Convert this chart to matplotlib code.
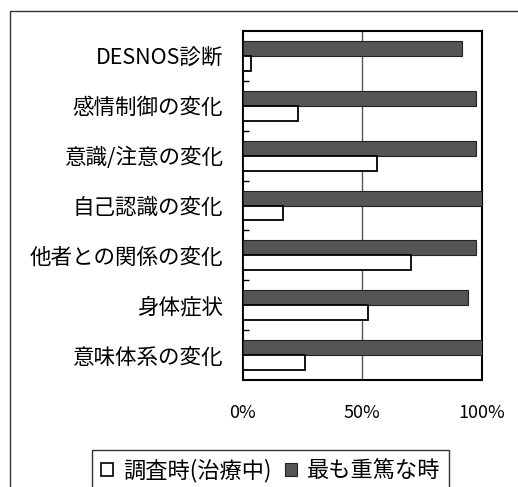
import matplotlib
matplotlib.use("Agg")
import matplotlib.pyplot as plt
from matplotlib.patches import Rectangle, Patch
import numpy as np

plt.rcParams['font.family'] = ['Noto Sans CJK JP', 'DejaVu Sans']

categories = ["DESNOS診断", "感情制御の変化", "意識/注意の変化", "自己認識の変化",
              "他者との関係の変化", "身体症状", "意味体系の変化"]
current_pct = [3.4, 23, 56, 17, 70.5, 52.5, 26]
worst_pct = [91.5, 97.5, 97.5, 100, 97.5, 94, 100]
series_labels = ["調査時(治療中)", "最も重篤な時"]
x_ticks = [0, 50, 100]
x_tick_labels = ["0%", "50%", "100%"]

W, H = 518, 487
fig = plt.figure(figsize=(W / 100, H / 100), dpi=100)
ax = fig.add_axes([242.5 / W, 1 - 380 / H, (482 - 242.5) / W, (380 - 31) / H])

y = np.arange(len(categories))
bh = 0.3
ax.barh(y - bh / 2, worst_pct, height=bh, color="#555555", edgecolor="#222222",
        linewidth=0.8, zorder=3)
ax.barh(y + bh / 2, current_pct, height=bh, color="white", edgecolor="black",
        linewidth=1.3, zorder=3)

ax.set_xlim(0, 100)
ax.set_ylim(len(categories) - 0.5, -0.5)
ax.axvline(50, color="#555555", linewidth=1.0, zorder=1)

ax.set_xticks(x_ticks)
ax.set_xticklabels(x_tick_labels, fontsize=13)
ax.tick_params(axis="x", length=0, pad=17)

# category boundaries get short inward ticks, labels sit at the centers
ax.set_yticks(np.arange(len(categories) - 1) + 0.5)
ax.set_yticklabels([])
ax.tick_params(axis="y", which="major", direction="in", length=4, width=1)
ax.set_yticks(y, minor=True)
ax.set_yticklabels(categories, minor=True, fontsize=15.5)
ax.tick_params(axis="y", which="minor", length=0, pad=14)

for s in ax.spines.values():
    s.set_linewidth(1.5)
    s.set_color("black")

# outer chart border
fig.add_artist(Rectangle((10 / W, -0.2), 1.2, 1.2 - 11 / H, transform=fig.transFigure,
                         fill=False, edgecolor="#333333", linewidth=1.0))

handles = [Patch(facecolor="white", edgecolor="black", linewidth=1.2),
           Patch(facecolor="#555555", edgecolor="#222222", linewidth=0.8)]
leg = fig.legend(handles, series_labels, loc="upper left",
                 bbox_to_anchor=(92 / W, 1 - 450 / H), ncol=2, fontsize=16,
                 frameon=True, fancybox=False, handlelength=0.55, handleheight=0.55,
                 handletextpad=0.45, columnspacing=0.6, borderpad=0.4,
                 borderaxespad=0)
leg.get_frame().set_edgecolor("black")
leg.get_frame().set_linewidth(1.0)

fig.savefig("out.png", dpi=100)
